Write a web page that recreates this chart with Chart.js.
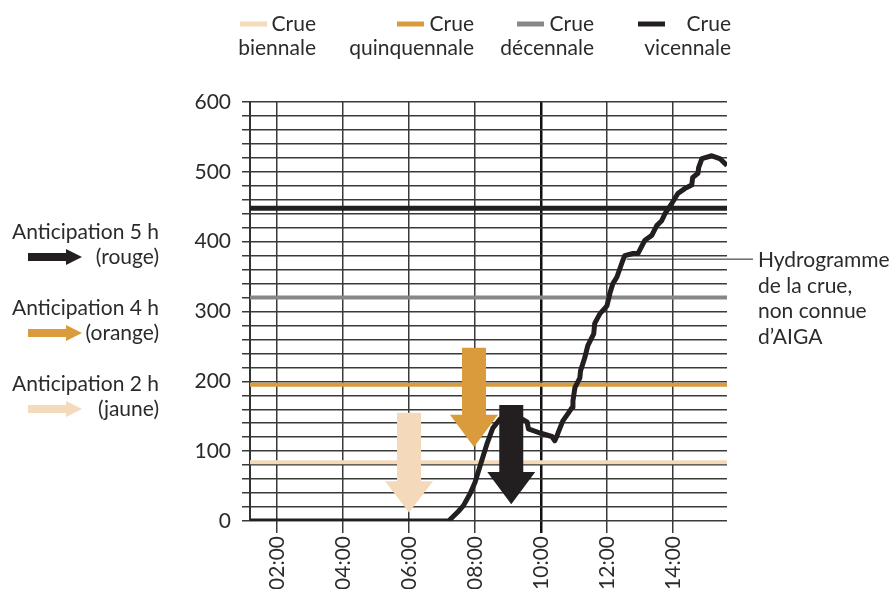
<!DOCTYPE html>
<html>
<head>
<meta charset="utf-8">
<script src="https://cdn.jsdelivr.net/npm/chart.js@4/dist/chart.umd.min.js"></script>
<style>
    html, body { margin: 0; padding: 0; background: #fff; }
    #wrap { width: 893px; height: 589px; }
</style>
</head>
<body>
<div id="wrap"><canvas id="hydroChart" width="893" height="589"></canvas></div>
<script>
// Time axis (hours of the day)
const hourRange = [1.18, 15.64];
const hourTicks = [2, 4, 6, 8, 10, 12, 14];
const hourLabels = ['02:00', '04:00', '06:00', '08:00', '10:00', '12:00', '14:00'];

// Flow axis
const flowMax = 600;
const flowStep = 20;
const flowLabelStep = 100;

// Flood thresholds
const floodNames = [['Crue', 'biennale'], ['Crue', 'quinquennale'], ['Crue', 'décennale'], ['Crue', 'vicennale']];
const floodLevels = [84, 195, 320, 448];
const floodColors = ['#f4dabb', '#d99b3c', '#878787', '#231f20'];
const floodWidths = [4, 4, 4, 5];

// Flood hydrograph
const hydroHours = [1.18, 7.2, 7.5, 7.65, 7.85, 8.0, 8.15, 8.36, 8.54, 8.76, 9.42, 9.58, 9.62, 9.97, 10.33,
    10.42, 10.51, 10.66, 10.85, 10.95, 10.97, 11.03, 11.18, 11.2, 11.33, 11.42, 11.6, 11.63, 11.79, 12.0,
    12.09, 12.18, 12.3, 12.48, 12.54, 12.79, 12.94, 13.15, 13.36, 13.51, 13.66, 13.76, 13.97, 14.15,
    14.36, 14.57, 14.6, 14.76, 14.78, 14.88, 15.18, 15.42, 15.64];
const hydroFlow = [0, 0, 14, 22, 39, 55, 78, 110, 133, 146, 146, 142, 132, 126, 121,
    115, 125, 143, 156, 163, 172, 191, 205, 215, 234, 251, 268, 283, 297, 308,
    326, 340, 349, 373, 380, 383, 383, 402, 409, 423, 430, 440, 455, 469,
    476, 481, 492, 498, 506, 519, 523, 519, 509];

// Warning arrows (jaune, orange, rouge)
const alertHours = [6.0, 7.97, 9.1];
const alertTop = [155, 248, 166];
const alertHeadStart = [57, 152, 70];
const alertTip = [12, 106, 24];
const alertColors = ['#f4dabb', '#d99b3c', '#231f20'];

const anticipationTexts = [['Anticipation 5 h', '(rouge)'], ['Anticipation 4 h', '(orange)'], ['Anticipation 2 h', '(jaune)']];
const anticipationColors = ['#231f20', '#d99b3c', '#f4dabb'];

const calloutPoint = { x: 12.6, y: 375 };
const calloutText = ['Hydrogramme', 'de la crue,', 'non connue', 'd\u2019AIGA'];

const textColor = '#2b2b2b';
const fontFamily = 'Lato, "Noto Sans", sans-serif';

// Vertical arrows drawn in data space, just above the threshold lines
const alertArrows = {
    id: 'alertArrows',
    afterDatasetDraw(chart, args) {
        if (args.index !== 1) return;
        const ctx = chart.ctx;
        const xs = chart.scales.x;
        const ys = chart.scales.y;
        ctx.save();
        alertHours.forEach((h, i) => {
            const cx = xs.getPixelForValue(h);
            const top = ys.getPixelForValue(alertTop[i]);
            const head = ys.getPixelForValue(alertHeadStart[i]);
            const tip = ys.getPixelForValue(alertTip[i]);
            ctx.fillStyle = alertColors[i];
            ctx.beginPath();
            ctx.moveTo(cx - 12, top);
            ctx.lineTo(cx + 12, top);
            ctx.lineTo(cx + 12, head);
            ctx.lineTo(cx + 24, head);
            ctx.lineTo(cx, tip);
            ctx.lineTo(cx - 24, head);
            ctx.lineTo(cx - 12, head);
            ctx.closePath();
            ctx.fill();
        });
        ctx.restore();
    }
};

// Legend at the top, left block and right callout
const annotations = {
    id: 'annotations',
    afterDraw(chart) {
        const ctx = chart.ctx;
        ctx.save();
        ctx.font = '21px ' + fontFamily;
        ctx.fillStyle = textColor;
        ctx.textBaseline = 'middle';

        // legend
        const legendRight = [316, 474, 594, 731];
        const legendSwatch = [240, 397, 517, 638];
        floodNames.forEach((lines, i) => {
            ctx.strokeStyle = floodColors[i];
            ctx.lineWidth = 5;
            ctx.beginPath();
            ctx.moveTo(legendSwatch[i], 24);
            ctx.lineTo(legendSwatch[i] + 27, 24);
            ctx.stroke();
            ctx.textAlign = 'right';
            ctx.fillText(lines[0], legendRight[i], 24);
            ctx.fillText(lines[1], legendRight[i], 48);
        });

        // anticipation block
        anticipationTexts.forEach((lines, i) => {
            const y0 = 232 + i * 76;
            ctx.textAlign = 'right';
            ctx.fillStyle = textColor;
            ctx.fillText(lines[0], 159, y0);
            ctx.fillText(lines[1], 159, y0 + 25);
            const ay = y0 + 25;
            ctx.fillStyle = anticipationColors[i];
            ctx.beginPath();
            ctx.moveTo(28, ay - 4);
            ctx.lineTo(66, ay - 4);
            ctx.lineTo(66, ay - 8);
            ctx.lineTo(82, ay);
            ctx.lineTo(66, ay + 8);
            ctx.lineTo(66, ay + 4);
            ctx.lineTo(28, ay + 4);
            ctx.closePath();
            ctx.fill();
        });

        // callout
        const px = chart.scales.x.getPixelForValue(calloutPoint.x);
        const py = chart.scales.y.getPixelForValue(calloutPoint.y);
        ctx.strokeStyle = '#231f20';
        ctx.lineWidth = 1;
        ctx.beginPath();
        ctx.moveTo(px, py);
        ctx.lineTo(753, py);
        ctx.stroke();
        ctx.fillStyle = textColor;
        ctx.textAlign = 'left';
        calloutText.forEach((t, i) => ctx.fillText(t, 758, py + 1 + i * 25.7));
        ctx.restore();
    }
};

// hydrograph first so it is drawn on top of everything
const datasets = [{
    label: 'Hydrogramme',
    data: hydroHours.map((h, i) => ({ x: h, y: hydroFlow[i] })),
    borderColor: '#231f20',
    borderWidth: 5,
    borderJoinStyle: 'round',
    pointRadius: 0,
    tension: 0
}];
floodLevels.forEach((lvl, i) => {
    datasets.push({
        label: floodNames[i].join(' '),
        data: [{ x: hourRange[0], y: lvl }, { x: hourRange[1], y: lvl }],
        borderColor: floodColors[i],
        borderWidth: floodWidths[i],
        pointRadius: 0
    });
});

new Chart(document.getElementById('hydroChart'), {
    type: 'line',
    data: { datasets: datasets },
    plugins: [alertArrows, annotations],
    options: {
        responsive: false,
        animation: false,
        layout: { padding: { top: 102, right: 166, left: 0, bottom: 0 } },
        plugins: { legend: { display: false }, tooltip: { enabled: false } },
        scales: {
            x: {
                type: 'linear',
                min: hourRange[0],
                max: hourRange[1],
                afterBuildTicks: s => { s.ticks = hourTicks.map(v => ({ value: v })); },
                afterFit: s => { s.height = 68; },
                ticks: {
                    autoSkip: false,
                    minRotation: 90,
                    maxRotation: 90,
                    padding: 3,
                    color: textColor,
                    font: { family: fontFamily, size: 21 },
                    callback: v => hourLabels[hourTicks.indexOf(v)]
                },
                grid: {
                    color: ctx => ctx.tick && ctx.tick.value === 10 ? '#111' : '#3a3a3a',
                    lineWidth: ctx => ctx.tick && ctx.tick.value === 10 ? 2.5 : 1.5,
                    tickLength: 12
                },
                border: { display: false }
            },
            y: {
                min: 0,
                max: flowMax,
                afterFit: s => { s.width = 250; },
                ticks: {
                    stepSize: flowStep,
                    autoSkip: false,
                    padding: 11,
                    color: textColor,
                    font: { family: fontFamily, size: 21 },
                    callback: v => v % flowLabelStep === 0 ? v : ''
                },
                grid: {
                    color: '#3a3a3a',
                    lineWidth: 1.5,
                    tickLength: 8
                },
                border: { display: true, color: '#333', width: 2 }
            }
        }
    }
});
</script>
</body>
</html>
